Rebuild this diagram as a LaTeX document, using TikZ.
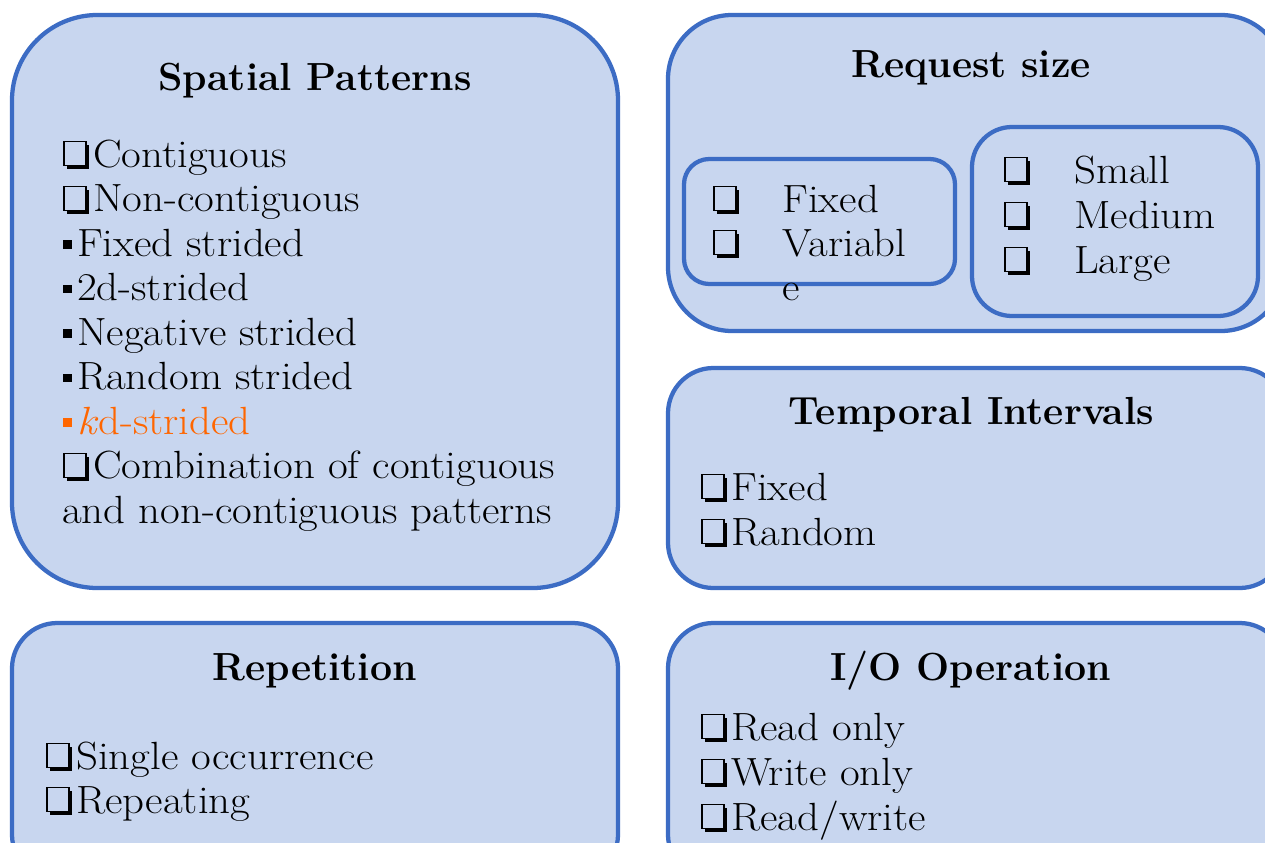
\documentclass[tikz,border=0pt]{standalone}
\usepackage{fontspec}
\usepackage{graphicx}
\definecolor{boxfill}{RGB}{200,214,239}
\definecolor{boxline}{RGB}{60,108,196}
\definecolor{korange}{RGB}{255,102,0}
\newcommand{\cbx}{\tikz[x=1pt,y=1pt,baseline=0pt]{\fill[black](2.5,-1.5) rectangle (19.5,16.5);\filldraw[fill=boxfill,draw=black,line width=1pt](0.5,1) rectangle (17,19);}\hspace{3pt}}
\newcommand{\sqb}{\rule[5.5pt]{6.3pt}{6.3pt}\hspace{4pt}}
\newcommand{\wdtxt}[1]{\scalebox{1.09}[1]{#1}}
\tikzset{
  panel/.style={draw=boxline, fill=boxfill, line width=3.2pt},
  head/.style={anchor=base, inner sep=0pt, font=\fontsize{29.4}{33}\selectfont\bfseries},
  item/.style={anchor=base west, inner sep=0pt, font=\fontsize{29.5}{33.4}\selectfont},
}
\begin{document}
\begin{tikzpicture}[x=0.75pt,y=-0.75pt]
\useasboundingbox (0,0) rectangle (1265,843);
\fill[white] (0,0) rectangle (1265,843);
\clip (0,0) rectangle (1265,843);
% panels
\draw[panel, rounded corners=64pt] (12,15) rectangle (618,588);
\draw[panel, rounded corners=48pt] (668,15) rectangle (1285,331);
\draw[panel, rounded corners=19pt] (684,159) rectangle (955,284);
\draw[panel, rounded corners=30pt] (972,127) rectangle (1258,316);
\draw[panel, rounded corners=34pt] (668,368) rectangle (1285,588);
\draw[panel, rounded corners=34pt] (12,623) rectangle (618,880);
\draw[panel, rounded corners=34pt] (668,623) rectangle (1285,880);
% Spatial Patterns
\node[head] (hsp) at (315,90) {Spatial Patterns};
\node[item] (sp1) at (63,167) {\cbx\wdtxt{Contiguous}};
\node[item] (sp2) at (63,211.5) {\cbx\wdtxt{Non-contiguous}};
\node[item] (sp3) at (63,256) {\sqb\wdtxt{Fixed strided}};
\node[item] (sp4) at (63,300.5) {\sqb\wdtxt{2d-strided}};
\node[item] (sp5) at (63,345) {\sqb\wdtxt{Negative strided}};
\node[item] (sp6) at (63,389.5) {\sqb\wdtxt{Random strided}};
\node[item, text=korange] (sp7) at (63,434) {\sqb\wdtxt{\textit{k}d-strided}};
\node[item] (sp8) at (63,478.5) {\cbx\wdtxt{Combination of contiguous}};
\node[item] (sp9) at (62,523) {\wdtxt{and non-contiguous patterns}};
% Request size
\node[head] (hrs) at (971,77) {Request size};
\node[item] (rc1) at (713,212) {\cbx};
\node[item] (rt1) at (782,212) {\wdtxt{Fixed}};
\node[item] (rc2) at (713,256) {\cbx};
\node[item] (rt2) at (782,256) {\wdtxt{Variabl}};
\node[item] (rt3) at (782,300) {\wdtxt{e}};
\node[item] (rc4) at (1004,183) {\cbx};
\node[item] (rt4) at (1074,183) {\wdtxt{Small}};
\node[item] (rc5) at (1004,228) {\cbx};
\node[item] (rt5) at (1074,228) {\wdtxt{Medium}};
\node[item] (rc6) at (1004,273) {\cbx};
\node[item] (rt6) at (1074,273) {\wdtxt{Large}};
% Temporal Intervals
\node[head] (hti) at (971.5,424) {Temporal Intervals};
\node[item] (ti1) at (701,500) {\cbx\wdtxt{Fixed}};
\node[item] (ti2) at (701,545) {\cbx\wdtxt{Random}};
% Repetition
\node[head] (hre) at (314.5,680) {Repetition};
\node[item] (re1) at (46,769) {\cbx\wdtxt{Single occurrence}};
\node[item] (re2) at (46,813) {\cbx\wdtxt{Repeating}};
% I/O Operation
\node[head] (hio) at (970.5,680) {I/O Operation};
\node[item] (io1) at (701,740) {\cbx\wdtxt{Read only}};
\node[item] (io2) at (701,785) {\cbx\wdtxt{Write only}};
\node[item] (io3) at (701,830) {\cbx\wdtxt{Read/write}};
\end{tikzpicture}
\end{document}
